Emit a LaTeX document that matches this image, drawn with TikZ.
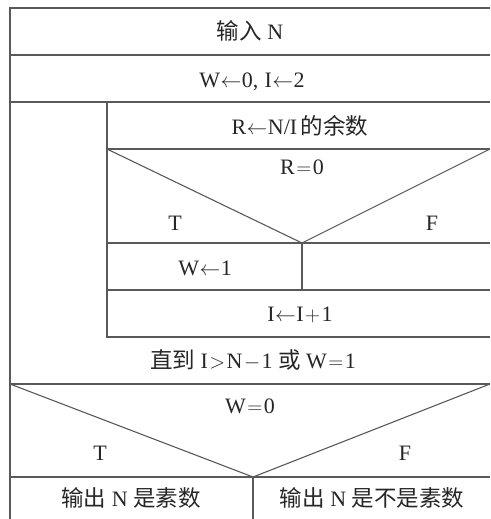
\documentclass[tikz,border=0pt]{standalone}
\usepackage{fontspec}
\setmainfont{Liberation Serif}
\newfontfamily\cjk{Noto Sans CJK SC}
\newcommand{\zh}[1]{{\cjk\fontsize{22.5}{25}\selectfont #1}}
\newcommand{\la}{\kern0.5pt$\leftarrow$\kern0.5pt}
\newcommand{\sy}[1]{\kern1.5pt$\mathord{#1}$\kern1.5pt}
\begin{document}
\begin{tikzpicture}[x=1pt,y=-1pt,
  ln/.style={draw=black!65, line width=1.1pt},
  lbl/.style={font=\fontsize{22}{25}\selectfont, text=black!85, inner sep=0pt, anchor=base}]
\useasboundingbox (0,0) rectangle (490,519);
% frame lines
\draw[ln] (490,8) -- (10,8) -- (10,519);
\draw[ln] (10,55) -- (490,55);
\draw[ln] (10,102) -- (490,102);
\draw[ln] (107,102) -- (107,337) -- (490,337);
\draw[ln] (107,149) -- (490,149);
\draw[ln] (107,149) -- (302,243) -- (490,149);
\draw[ln] (107,243) -- (490,243);
\draw[ln] (302,243) -- (302,290);
\draw[ln] (107,290) -- (490,290);
\draw[ln] (10,384) -- (490,384);
\draw[ln] (10,384) -- (253,477) -- (490,384);
\draw[ln] (10,477) -- (490,477);
\draw[ln] (253,477) -- (253,519);
% texts
\node[lbl] (in) at (250,40) {\zh{输入} N};
\node[lbl] (init) at (252,87) {W\la0,\;I\la2};
\node[lbl] (rem) at (300,134) {R\la N/I\,\zh{的余数}};
\node[lbl] (cond1) at (302,174) {R\sy{=}0};
\node[lbl] (t1) at (175,230) {T};
\node[lbl] (f1) at (432,230) {F};
\node[lbl] (w1) at (205,275) {W\la1};
\node[lbl] (inc) at (300,321) {I\la I\sy{+}1};
\node[lbl] (until) at (253,368) {\zh{直到} I\sy{>}N\sy{-}1 \zh{或} W\sy{=}1};
\node[lbl] (cond2) at (250,413) {W\sy{=}0};
\node[lbl] (t2) at (100,460) {T};
\node[lbl] (f2) at (405,460) {F};
\node[lbl] (yes) at (131,506) {\zh{输出} N \zh{是素数}};
\node[lbl] (no) at (372,506) {\zh{输出} N \zh{是不是素数}};
\end{tikzpicture}
\end{document}
